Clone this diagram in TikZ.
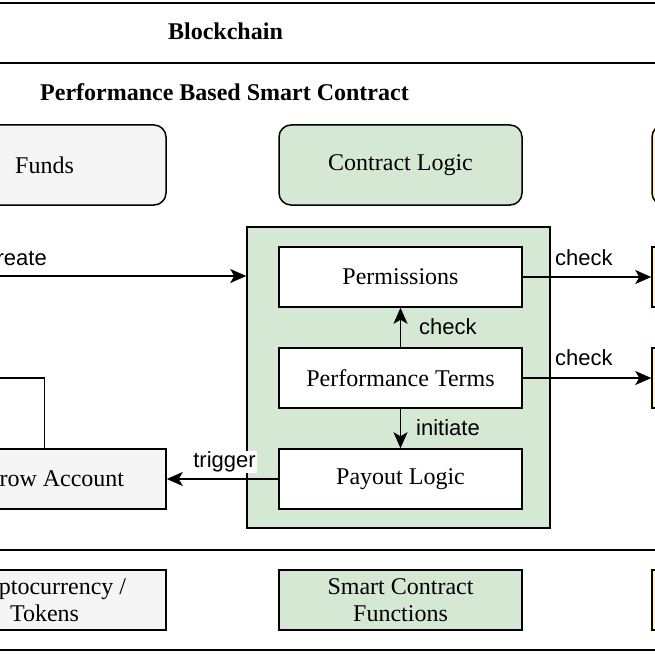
\documentclass[tikz,border=0pt]{standalone}
\usepackage{fontspec}
\setmainfont{Liberation Serif}
\newfontfamily\lab{Liberation Sans}
\usetikzlibrary{arrows.meta}
\definecolor{grayfill}{HTML}{F5F5F5}
\definecolor{greenfill}{HTML}{D5E8D4}
\definecolor{yellowfill}{HTML}{FFF2CC}
\begin{document}
\begin{tikzpicture}[x=1pt,y=-1pt,
  box/.style={draw=black,line width=1.5pt,minimum width=243pt,minimum height=60pt,inner sep=0pt,align=center,font=\fontsize{24}{27}\selectfont},
  rbox/.style={box,rounded corners=12pt,minimum height=80pt},
  gbox/.style={fill=grayfill},
  grbox/.style={fill=greenfill},
  ybox/.style={fill=yellowfill},
  wbox/.style={fill=white},
  band/.style={draw=black,line width=1.8pt,inner sep=0pt},
  conn/.style={line width=1.5pt,-{Stealth[length=16pt,width=14pt,inset=4pt]}},
  plain/.style={line width=1.5pt},
  lbl/.style={font=\lab\fontsize{22}{24}\selectfont,inner sep=1pt},
  title/.style={font=\bfseries\fontsize{24}{27}\selectfont,inner sep=0pt}
]
\useasboundingbox (0,0) rectangle (655,655);
\clip (0,0) rectangle (655,655);
\fill[white] (0,0) rectangle (655,655);

% bands
\node[band,minimum width=1000pt,minimum height=60pt] (chain) at (300,33) {};
\node[title] (chaint) at (225.5,31) {Blockchain};
\node[title,anchor=west] (pbsc) at (40,92) {Performance Based Smart Contract};
\node[band,minimum width=1000pt,minimum height=100pt] (bottom) at (300,600) {};

% top row
\node[rbox,gbox] (funds) at (44.5,165) {Funds};
\node[rbox,grbox] (logic) at (400.5,165) {Contract Logic};
\node[rbox,ybox] (rtop) at (773.5,165) {};

% container
\node[draw=black,line width=1.5pt,fill=greenfill,minimum width=303pt,minimum height=301pt,inner sep=0pt] (cont) at (398.5,377.5) {};
\node[box,wbox] (perm) at (400.5,277) {Permissions};
\node[box,wbox] (perf) at (400.5,378) {Performance Terms};
\node[box,wbox] (pay) at (400.5,479) {Payout Logic};

% right boxes
\node[box,ybox] (rperm) at (773.5,277) {};
\node[box,ybox] (rperf) at (773.5,378) {};

% left boxes
\node[box,gbox] (escrow) at (44.5,479) {Escrow Account};
\coordinate (createsrc) at (-40,276);
\coordinate (escdst) at (-40,378);

% bottom row
\node[box,gbox] (crypto) at (44.5,600) {Cryptocurrency /\\Tokens};
\node[box,grbox] (funcs) at (400.5,600) {Smart Contract\\Functions};
\node[box,ybox] (rbot) at (773.5,600) {};

% connectors
\draw[conn] (createsrc) -- (createsrc -| cont.west);
\node[lbl,anchor=east] (createl) at (48,258) {Create};
\draw[conn] (perf.north) -- (perm.south);
\node[lbl,anchor=west] (chk1) at (418,327) {check};
\draw[conn] (perf.south) -- (pay.north);
\node[lbl,anchor=west] (init) at (415,428) {initiate};
\draw[conn] (perm.east) -- (rperm.west);
\node[lbl,anchor=west] (chk2) at (554,258) {check};
\draw[conn] (perf.east) -- (rperf.west);
\node[lbl,anchor=west] (chk3) at (554,358) {check};
\draw[conn] (pay.west) -- (escrow.east);
\node[lbl,fill=white] (trig) at (224.5,462) {trigger};
\draw[plain] (escrow.north) |- (escdst);
\end{tikzpicture}
\end{document}
